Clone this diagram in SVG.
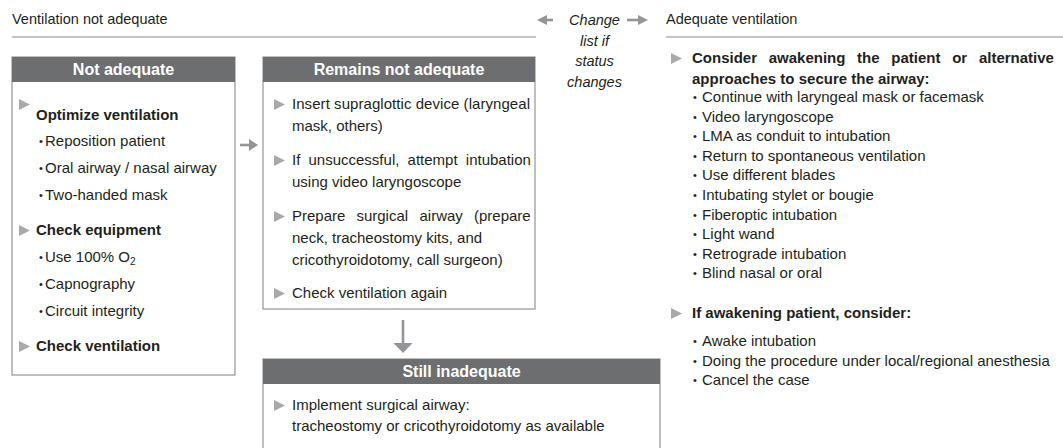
<svg xmlns="http://www.w3.org/2000/svg" width="1063" height="448" viewBox="0 0 1063 448">
<style>
text{font-family:"Liberation Sans",Arial,sans-serif;fill:#231f20;font-size:15px}
.h{font-size:14.5px}
.b{font-weight:bold}
.hd{font-weight:bold;font-size:16px;fill:#fff}
.it{font-style:italic;font-size:14.5px}
.box{fill:#fff;stroke:#9d9d9d;stroke-width:1.3}
.bar{fill:#6d6e70}
.tri{fill:#a7a9ac}
.rule{stroke:#8a8a8a;stroke-width:1.2}
.arr{stroke:#939598;stroke-width:2.6;fill:none}
.ah{fill:#939598}
.dot{font-size:11px}
</style>
<rect width="1063" height="448" fill="#fff"/>
<g id="headings">
<text class="h" x="12" y="24">Ventilation not adequate</text>
<line class="rule" x1="12" y1="37" x2="536" y2="37"/>
<text class="h" x="666" y="24">Adequate ventilation</text>
<line class="rule" x1="666" y1="37" x2="1063" y2="37"/>
<text class="it" x="594.5" y="25" text-anchor="middle">Change</text>
<text class="it" x="594.5" y="46" text-anchor="middle">list if</text>
<text class="it" x="594.5" y="66" text-anchor="middle">status</text>
<text class="it" x="594.5" y="87" text-anchor="middle">changes</text>
</g>
<g id="connectors">
<line class="arr" x1="553" y1="20" x2="545" y2="20"/>
<polygon class="ah" points="537,20 547,15 547,25"/>
<line class="arr" x1="627" y1="20" x2="639" y2="20"/>
<polygon class="ah" points="648,20 638,15 638,25"/>
<line class="arr" x1="240" y1="145" x2="250" y2="145"/>
<polygon class="ah" points="258,145 249,139 249,151"/>
<line class="arr" x1="403" y1="320" x2="403" y2="344"/>
<polygon class="ah" points="403,353 393.5,343 412.5,343"/>
</g>
<g id="node-not-adequate">
<rect class="box" x="12" y="57" width="223" height="318"/>
<rect class="bar" x="12" y="57" width="223" height="25"/>
<text class="hd" x="123.5" y="75" text-anchor="middle">Not adequate</text>
<polygon class="tri" points="19,99 30,104.5 19,110"/>
<text class="b" x="36" y="120">Optimize ventilation</text>
<text class="dot" x="39" y="145">•</text><text x="45" y="146">Reposition patient</text>
<text class="dot" x="39" y="172">•</text><text x="45" y="173">Oral airway / nasal airway</text>
<text class="dot" x="39" y="199">•</text><text x="45" y="200">Two-handed mask</text>
<polygon class="tri" points="19,225 30,230.5 19,236"/>
<text class="b" x="36" y="235">Check equipment</text>
<text class="dot" x="39" y="261">•</text><text x="45" y="262">Use 100% O<tspan font-size="10" dy="3">2</tspan></text>
<text class="dot" x="39" y="288">•</text><text x="45" y="289">Capnography</text>
<text class="dot" x="39" y="315">•</text><text x="45" y="316">Circuit integrity</text>
<polygon class="tri" points="19,341 30,346.5 19,352"/>
<text class="b" x="36" y="351">Check ventilation</text>
</g>
<g id="node-remains-not-adequate">
<rect class="box" x="263" y="57" width="272" height="252"/>
<rect class="bar" x="263" y="57" width="272" height="25"/>
<text class="hd" x="399" y="75" text-anchor="middle">Remains not adequate</text>
<polygon class="tri" points="274,99 285,104.5 274,110"/>
<text x="292" y="109" textLength="238" lengthAdjust="spacing">Insert supraglottic device (laryngeal</text>
<text x="292" y="131">mask, others)</text>
<polygon class="tri" points="274,155 285,160.5 274,166"/>
<text y="165"><tspan x="292">If</tspan><tspan x="308.5">unsuccessful,</tspan><tspan x="407.6">attempt</tspan><tspan x="465.8">intubation</tspan></text>
<text x="292" y="187">using video laryngoscope</text>
<polygon class="tri" points="274,211 285,216.5 274,222"/>
<text y="221"><tspan x="292">Prepare</tspan><tspan x="356.4">surgical</tspan><tspan x="419.5">airway</tspan><tspan x="474">(prepare</tspan></text>
<text x="292" y="243">neck, tracheostomy kits, and</text>
<text x="292" y="265">cricothyroidotomy, call surgeon)</text>
<polygon class="tri" points="274,288 285,293.5 274,299"/>
<text x="292" y="298">Check ventilation again</text>
</g>
<g id="node-still-inadequate">
<rect class="box" x="263" y="359" width="397" height="110"/>
<rect class="bar" x="263" y="359" width="397" height="25"/>
<text class="hd" x="461.5" y="377" text-anchor="middle">Still inadequate</text>
<polygon class="tri" points="274,400 285,405.5 274,411"/>
<text x="292" y="410">Implement surgical airway:</text>
<text x="292" y="431">tracheostomy or cricothyroidotomy as available</text>
</g>
<g id="node-adequate">
<polygon class="tri" points="671,53 682,58.5 671,64"/>
<text class="b" y="63"><tspan x="692">Consider</tspan><tspan x="768.7">awakening</tspan><tspan x="857.1">the</tspan><tspan x="891.3">patient</tspan><tspan x="952.2">or</tspan><tspan x="978.9">alternative</tspan></text>
<text class="b" x="692" y="84">approaches to secure the airway:</text>
<text class="dot" x="693" y="101">•</text><text x="702" y="102">Continue with laryngeal mask or facemask</text>
<text class="dot" x="693" y="120.6">•</text><text x="702" y="121.6">Video laryngoscope</text>
<text class="dot" x="693" y="140.2">•</text><text x="702" y="141.2">LMA as conduit to intubation</text>
<text class="dot" x="693" y="159.8">•</text><text x="702" y="160.8">Return to spontaneous ventilation</text>
<text class="dot" x="693" y="179.4">•</text><text x="702" y="180.4">Use different blades</text>
<text class="dot" x="693" y="199">•</text><text x="702" y="200">Intubating stylet or bougie</text>
<text class="dot" x="693" y="218.6">•</text><text x="702" y="219.6">Fiberoptic intubation</text>
<text class="dot" x="693" y="238.2">•</text><text x="702" y="239.2">Light wand</text>
<text class="dot" x="693" y="257.8">•</text><text x="702" y="258.8">Retrograde intubation</text>
<text class="dot" x="693" y="277.4">•</text><text x="702" y="278.4">Blind nasal or oral</text>
<polygon class="tri" points="671,308 682,313.5 671,319"/>
<text class="b" x="692" y="318">If awakening patient, consider:</text>
<text class="dot" x="693" y="345">•</text><text x="702" y="346">Awake intubation</text>
<text class="dot" x="693" y="364.5">•</text><text x="702" y="365.5">Doing the procedure under local/regional anesthesia</text>
<text class="dot" x="693" y="384">•</text><text x="702" y="385">Cancel the case</text>
</g>
</svg>
